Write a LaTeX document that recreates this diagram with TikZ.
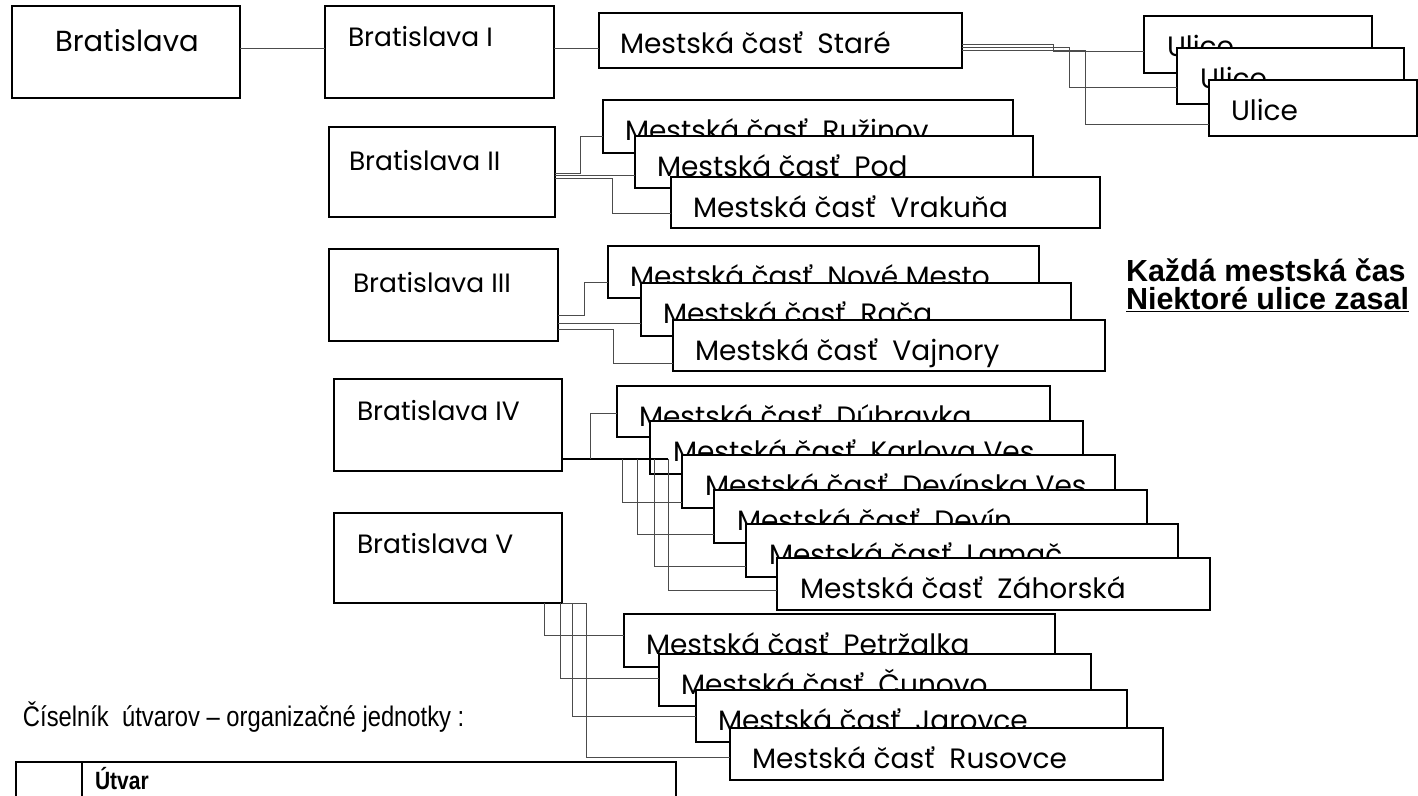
\documentclass[tikz,border=0pt]{standalone}
\usepackage{fontspec}
\setmainfont{Poppins}
\newfontfamily\arialf{Liberation Sans}
\newfontfamily\narrowf[FakeStretch=0.84]{Liberation Sans}
\usetikzlibrary{calc}
\newcommand\bigf{\fontsize{29}{34}\selectfont}
\newcommand\medf{\fontsize{26.5}{30}\selectfont}
\newcommand\msf{\fontsize{28}{30}\selectfont}
\tikzset{
  box/.style={draw=black, line width=2pt, fill=white, anchor=north west, inner sep=0pt, outer sep=0pt},
  lbl/.style={anchor=base west, inner sep=0pt, outer sep=0pt},
  conn/.style={draw=black!70, line width=1pt},
  trunk/.style={draw=black, line width=1.6pt},
  tbl/.style={draw=black, line width=2pt},
}
\newcommand\obox[8]{%
  \node[box, minimum width={(#4-#2)*1pt}, minimum height={(#5-#3)*1pt}] (#1) at (#2,-#3) {};
  \node[lbl] (#1-t) at ($(#1.north west)+(#6,-#7)$) {#8};
}
\begin{document}
\begin{tikzpicture}[x=1pt,y=1pt]
\useasboundingbox (0,0) rectangle (1418,-795);
\clip (0,0) rectangle (1418,-795);
\fill[white] (0,0) rectangle (1418,-795);
% top row
\obox{br}{12}{6}{240}{98}{43}{45}{\bigf Bratislava}
\obox{b1}{325}{6}{554}{98}{23}{40}{\medf Bratislava I}
\obox{stare}{599}{13}{962}{68}{21}{40}{\msf Mestská časť\ \ Staré}
\obox{u1}{1144}{16}{1372}{73}{23}{40}{\msf Ulice}
\obox{u2}{1177}{48}{1404}{104}{23}{40}{\msf Ulice}
\obox{u3}{1209}{80}{1417}{136}{22}{40}{\msf Ulice}
% group II
\obox{b2}{329}{127}{555}{217}{20}{43}{\medf Bratislava II}
\obox{ruz}{603}{100}{1013}{153}{22}{40}{\msf Mestská časť\ \ Ružinov}
\obox{pod}{635}{136}{1033}{188}{22}{40}{\msf Mestská časť\ \ Pod}
\obox{vra}{671}{177}{1100}{228}{22}{40}{\msf Mestská časť\ \ Vrakuňa}
% group III
\obox{b3}{329}{249}{558}{341}{24}{43}{\medf Bratislava III}
\obox{nm}{608}{246}{1039}{298}{22}{40}{\msf Mestská časť\ \ Nové Mesto}
\obox{rac}{641}{283}{1071}{336}{22}{40}{\msf Mestská časť\ \ Rača}
\obox{vaj}{673}{320}{1105}{371}{22}{40}{\msf Mestská časť\ \ Vajnory}
% group IV
\obox{b4}{334}{379}{562}{471}{23}{41}{\medf Bratislava IV}
\obox{dub}{617}{386}{1050}{437}{22}{40}{\msf Mestská časť\ \ Dúbravka}
\obox{kv}{650}{421}{1083}{474}{23}{40}{\msf Mestská časť\ \ Karlova Ves}
\obox{dv}{682}{455}{1115}{508}{23}{40}{\msf Mestská časť\ \ Devínska Ves}
\obox{dn}{714}{490}{1147}{543}{23}{40}{\msf Mestská časť\ \ Devín}
\obox{lam}{746}{524}{1178}{577}{23}{40}{\msf Mestská časť\ \ Lamač}
\obox{zah}{777}{558}{1210}{610}{23}{40}{\msf Mestská časť\ \ Záhorská}
% group V
\obox{b5}{334}{513}{562}{603}{23}{40}{\medf Bratislava V}
\obox{pet}{624}{614}{1055}{667}{22}{40}{\msf Mestská časť\ \ Petržalka}
\obox{cun}{659}{654}{1091}{706}{22}{40}{\msf Mestská časť\ \ Čunovo}
\obox{jar}{696}{690}{1127}{742}{22}{40}{\msf Mestská časť\ \ Jarovce}
\obox{rus}{730}{728}{1163}{780}{22}{40}{\msf Mestská časť\ \ Rusovce}
% connectors
\draw[conn] (br.east |- 0,-48) -- (b1.west |- 0,-48);
\draw[conn] (b1.east |- 0,-48) -- (stare.west |- 0,-48);
\draw[conn] (stare.east |- 0,-44) -- (1053,-44) |- (u1.west |- 0,-51);
\draw[conn] (stare.east |- 0,-47) -- (1069,-47) |- (u2.west |- 0,-87);
\draw[conn] (stare.east |- 0,-50) -- (1085,-50) |- (u3.west |- 0,-124);
\draw[conn] (b2.east |- 0,-173) -- (580,-173) |- (ruz.west |- 0,-136);
\draw[conn] (b2.east |- 0,-175) -- (pod.west |- 0,-175);
\draw[conn] (b2.east |- 0,-178) -- (612,-178) |- (vra.west |- 0,-213);
\draw[conn] (b3.east |- 0,-315) -- (584,-315) |- (nm.west |- 0,-282);
\draw[conn] (b3.east |- 0,-323) -- (rac.west |- 0,-323);
\draw[conn] (b3.east |- 0,-329) -- (613,-329) |- (vaj.west |- 0,-363);
\coordinate (j1) at (590,-459);
\coordinate (j2) at (622,-459);
\coordinate (j3) at (637,-459);
\coordinate (j4) at (654,-459);
\coordinate (j5) at (668,-459);
\draw[trunk] (b4.east |- 0,-459) -- (kv.west |- 0,-459) -- (j5);
\draw[conn] (j1) |- (dub.west |- 0,-413);
\draw[conn] (j2) |- (dv.west |- 0,-502);
\draw[conn] (j3) |- (dn.west |- 0,-534);
\draw[conn] (j4) |- (lam.west |- 0,-566);
\draw[conn] (j5) |- (zah.west |- 0,-590);
\draw[conn] (b5.south -| 544,0) |- (pet.west |- 0,-635);
\draw[conn] (b5.south -| 560,0) |- (cun.west |- 0,-678);
\draw[conn] (b5.south east) -- (586,-603);
\draw[conn] (b5.south -| 572,0) |- (jar.west |- 0,-716);
\draw[conn] (b5.south -| 586,0) |- (rus.west |- 0,-757);
% notes
\node[lbl, font=\arialf\bfseries\fontsize{30.5}{32}\selectfont] (note1) at (1126,-281) {Každá mestská čas};
\node[lbl, font=\arialf\bfseries\fontsize{30.5}{32}\selectfont] (note2) at (1126,-309) {\underline{Niektoré ulice zasal}};
\node[lbl, font=\narrowf\fontsize{28.3}{30}\selectfont] (cis) at (23,-726) {Číselník\ \ útvarov – organizačné jednotky :};
% table
\draw[tbl] (16,-800) |- (676,-762) -- (676,-800);
\draw[tbl] (82,-762) -- (82,-800);
\node[lbl, font=\narrowf\bfseries\fontsize{25}{26}\selectfont] (utvar) at (95,-789) {Útvar};
\end{tikzpicture}
\end{document}
